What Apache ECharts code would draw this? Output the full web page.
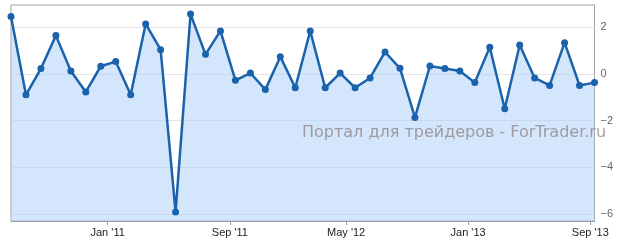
<!DOCTYPE html>
<html>
<head>
<meta charset="utf-8">
<script src="https://cdn.jsdelivr.net/npm/echarts@6/dist/echarts.min.js"></script>
<style>
html,body{margin:0;padding:0;background:#fff;}
#c{width:618px;height:244px;}
</style>
</head>
<body>
<div id="c"></div>
<script>
// Monthly values (one point per month, evenly spaced)
var values = [2.46, -0.89, 0.23, 1.64, 0.13, -0.77, 0.33, 0.53, -0.89, 2.14,
  1.04, -5.90, 2.56, 0.84, 1.84, -0.27, 0.04, -0.67, 0.74, -0.59,
  1.84, -0.59, 0.04, -0.59, -0.17, 0.94, 0.24, -1.86, 0.34, 0.23,
  0.13, -0.37, 1.14, -1.49, 1.24, -0.17, -0.49, 1.34, -0.49, -0.37];
// X-axis tick positions (in point-index units) and their labels
var xTickPositions = [6.46, 14.63, 22.40, 30.55, 38.72];
var xTickLabels = ["Jan '11", "Sep '11", "May '12", "Jan '13", "Sep '13"];
// Y-axis ticks
var yTicks = [-6, -4, -2, 0, 2];
var watermark = 'Портал для трейдеров - ForTrader.ru';

var seriesData = values.map(function (v, i) { return [i, v]; });

var chart = echarts.init(document.getElementById('c'), null, {renderer: 'canvas'});
chart.setOption({
  animation: false,
  backgroundColor: '#fff',
  textStyle: {fontFamily: 'Liberation Sans, Arial, sans-serif'},
  grid: {left: 11, right: 23.5, top: 5, bottom: 23, show: true,
    borderColor: '#a0a0a0', borderWidth: 1, backgroundColor: 'transparent'},
  xAxis: {
    type: 'value', min: 0, max: values.length - 1,
    axisLine: {show: true, onZero: false, lineStyle: {color: '#a0a0a0', width: 1}},
    axisTick: {show: true, length: 4, lineStyle: {color: '#a0a0a0'}, customValues: xTickPositions},
    axisLabel: {show: true, customValues: xTickPositions, color: '#222', fontSize: 11, margin: 6,
      fontFamily: 'Liberation Sans, Arial, sans-serif',
      formatter: function (v) {
        for (var i = 0; i < xTickPositions.length; i++) {
          if (Math.abs(xTickPositions[i] - v) < 1e-6) return xTickLabels[i];
        }
        return '';
      }},
    splitLine: {show: false}
  },
  yAxis: {
    type: 'value', position: 'right', min: -6.29, max: 2.95,
    axisLine: {show: false},
    axisTick: {show: false, customValues: yTicks},
    axisLabel: {customValues: yTicks, color: '#666', fontSize: 11, margin: 6,
      fontFamily: 'Liberation Sans, Arial, sans-serif',
      formatter: function (v) { return String(v).replace('-', '\u2212'); }},
    splitLine: {show: true, lineStyle: {color: '#e4e4e4', width: 1}}
  },
  series: [{
    type: 'line',
    data: seriesData,
    symbol: 'circle', symbolSize: 7, showSymbol: true,
    lineStyle: {color: '#1a62ab', width: 2.5},
    itemStyle: {color: '#1a62ab'},
    areaStyle: {color: 'rgba(170,205,250,0.5)', opacity: 1, origin: 'start'},
    z: 3
  }],
  graphic: [{
    type: 'text', x: 302, y: 132.5, z: 10,
    style: {text: watermark, fill: 'rgba(140,128,128,0.75)', verticalAlign: 'middle',
      font: '16px "DejaVu Sans", sans-serif'}
  }]
});
</script>
</body>
</html>
